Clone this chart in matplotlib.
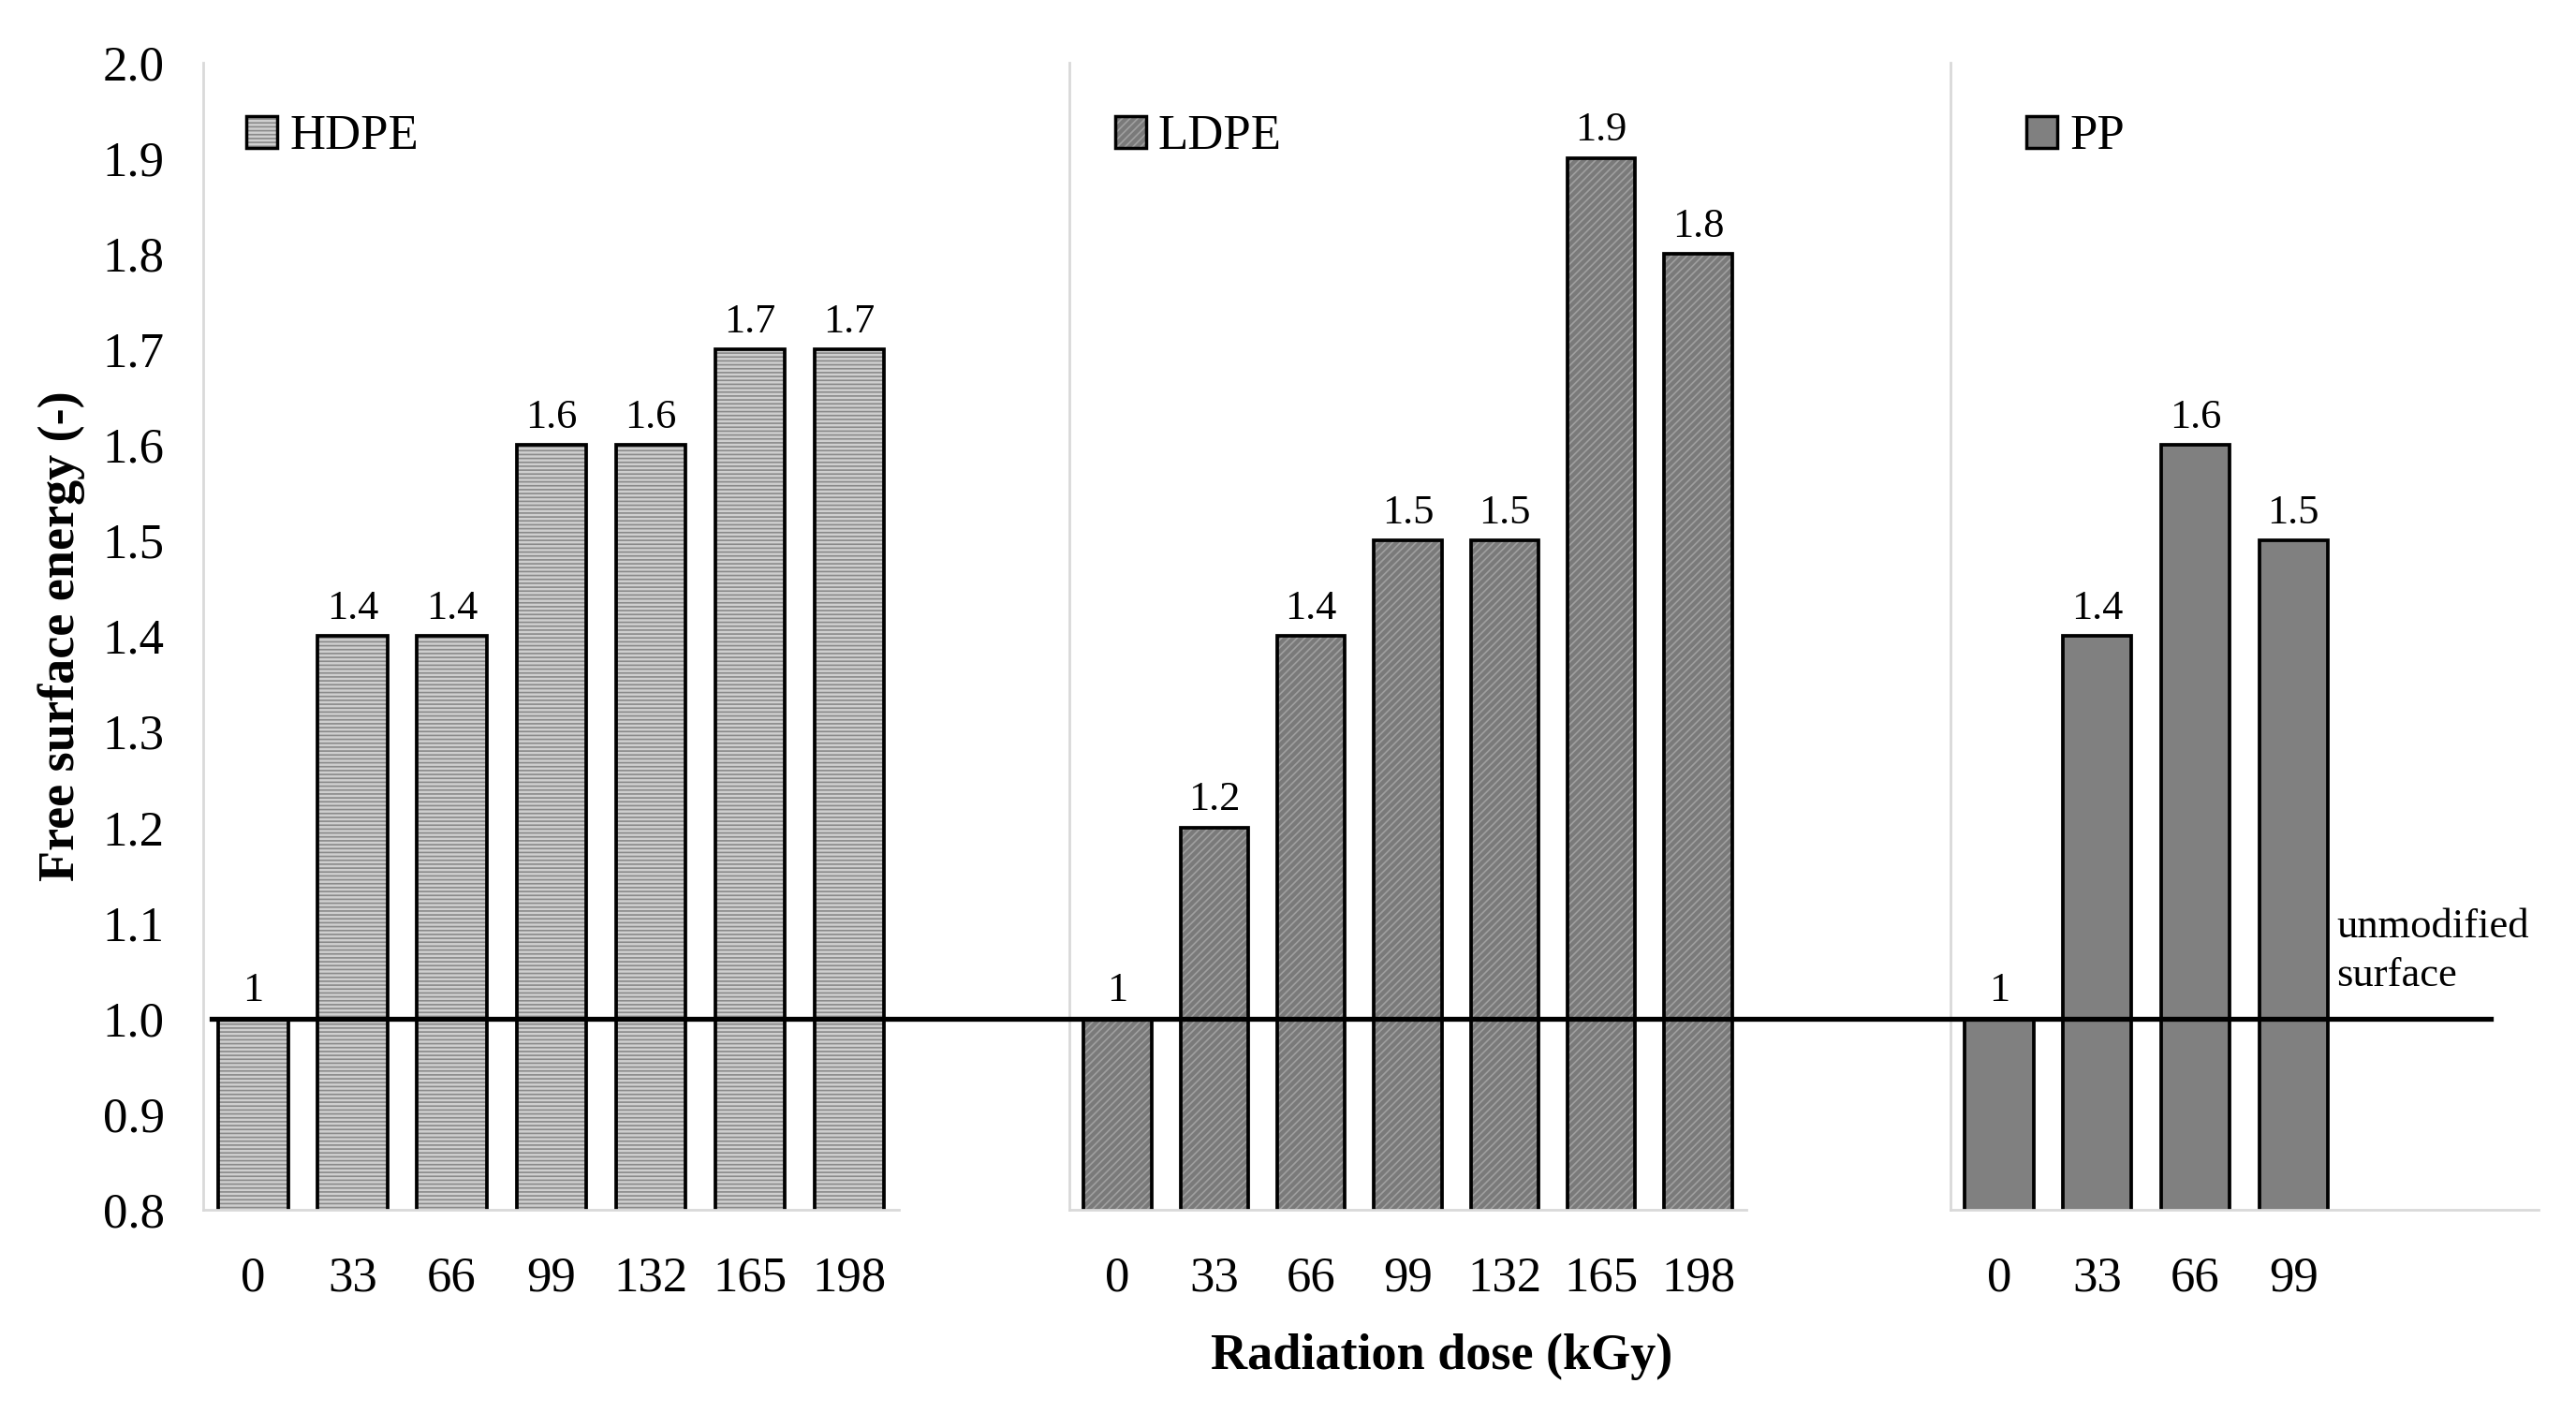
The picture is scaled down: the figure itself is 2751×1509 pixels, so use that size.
import matplotlib
matplotlib.use('Agg')
import matplotlib.pyplot as plt
import matplotlib.transforms as mtransforms
from matplotlib.lines import Line2D
from matplotlib.patches import Patch
import numpy as np

plt.rcParams['font.family'] = ['Liberation Serif', 'DejaVu Serif']

# data
dose_hdpe = ['0', '33', '66', '99', '132', '165', '198']
hdpe = [1.0, 1.4, 1.4, 1.6, 1.6, 1.7, 1.7]

dose_ldpe = ['0', '33', '66', '99', '132', '165', '198']
ldpe = [1.0, 1.2, 1.4, 1.5, 1.5, 1.9, 1.8]

dose_pp = ['0', '33', '66', '99']
pp = [1.0, 1.4, 1.6, 1.5]
pp_slots = 6  # excel chart keeps two empty categories

baseline = 1.0
y_ticks = [0.8, 0.9, 1.0, 1.1, 1.2, 1.3, 1.4, 1.5, 1.6, 1.7, 1.8, 1.9, 2.0]

fig = plt.figure(figsize=(27.51, 15.09), dpi=100)

bottom, height = 0.144, 0.8115
ax1 = fig.add_axes([0.079, bottom, 0.270, height])
ax2 = fig.add_axes([0.415, bottom, 0.263, height])
ax3 = fig.add_axes([0.757, bottom, 0.2286, height])

plt.rcParams['hatch.linewidth'] = 1.2

panels = [
    (ax1, dose_hdpe, hdpe, 'HDPE', '#cfcfcf', '#8a8a8a', '----', len(dose_hdpe), 0.062),
    (ax2, dose_ldpe, ldpe, 'LDPE', '#7a7a7a', '#a0a0a0', '////', len(dose_ldpe), 0.068),
    (ax3, dose_pp, pp, 'PP', '#808080', None, None, pp_slots, 0.13),
]

for ax, labels, vals, name, fc, hc, hatch, nslots, lx in panels:
    x = np.arange(len(vals))
    # fill with hatch (hatch takes the edge colour), then black outline on top
    if hatch:
        ax.bar(x, vals, width=0.7, color=fc, edgecolor=hc, hatch=hatch, linewidth=0)
    else:
        ax.bar(x, vals, width=0.7, color=fc, linewidth=0)
    ax.bar(x, vals, width=0.7, fill=False, edgecolor='black', linewidth=2.7)

    for xi, v in zip(x, vals):
        ax.annotate(f'{v:g}', (xi, v), xytext=(0, 7), textcoords='offset points',
                    ha='center', va='bottom', fontsize=32)

    ax.set_xlim(-0.5, nslots - 0.5)
    ax.set_xticks(x)
    ax.set_xticklabels(labels)
    ax.set_ylim(0.8, 2.0)
    ax.set_yticks(y_ticks)
    ax.tick_params(axis='x', length=0, pad=36, labelsize=38)
    ax.tick_params(axis='y', length=0, pad=30, labelsize=38)

    for s in ['top', 'right']:
        ax.spines[s].set_visible(False)
    for s in ['left', 'bottom']:
        ax.spines[s].set_color('#d9d9d9')
        ax.spines[s].set_linewidth(2)

    handle = Patch(facecolor=fc, edgecolor=hc if hatch else fc, hatch=hatch, linewidth=0)
    outline = Patch(facecolor='none', edgecolor='black', linewidth=2.5)
    ax.legend([(handle, outline)], [name], loc='upper left', bbox_to_anchor=(lx, 0.955),
              frameon=False, fontsize=38, borderaxespad=0, borderpad=0,
              handlelength=0.62, handleheight=0.62, handletextpad=0.25)

ax1.set_yticklabels([f'{t:.1f}' for t in y_ticks])
ax2.set_yticklabels([])
ax3.set_yticklabels([])

# unmodified surface reference line across all panels
trans = mtransforms.blended_transform_factory(fig.transFigure, ax1.transData)
fig.add_artist(Line2D([0.0822, 0.967], [baseline, baseline], transform=trans,
                      color='black', linewidth=3.8, zorder=5))
ax3.text(3.44, 1.025, 'unmodified\nsurface', ha='left', va='bottom', fontsize=32,
         linespacing=1.4)

fig.text(0.024, 0.55, 'Free surface energy (-)', rotation=90,
         ha='center', va='center', fontsize=39, fontweight='bold')
fig.text(0.5595, 0.04, 'Radiation dose (kGy)', ha='center', va='center',
         fontsize=39, fontweight='bold')

fig.savefig('out.png', dpi=100)
